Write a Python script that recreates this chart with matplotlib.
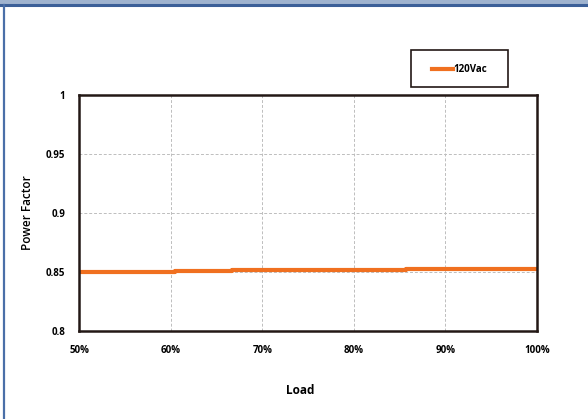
import matplotlib
matplotlib.use("Agg")
import matplotlib.pyplot as plt
from matplotlib.patches import Rectangle
from matplotlib.lines import Line2D

load = [50, 53.9, 60.5, 66.7, 74.3, 85.7, 100]
power_factor = [0.8496, 0.8501, 0.8506, 0.8515, 0.8521, 0.8528, 0.8528]
series_name = "120Vac"
xticks = [50, 60, 70, 80, 90, 100]
xtick_labels = ["50%", "60%", "70%", "80%", "90%", "100%"]
yticks = [0.8, 0.85, 0.9, 0.95, 1.0]
ytick_labels = ["0.8", "0.85", "0.9", "0.95", "1"]

plt.rcParams['font.family'] = ['Open Sans', 'DejaVu Sans']
fig = plt.figure(figsize=(5.88, 4.19), dpi=100)
fig.patch.set_facecolor('white')

# frame decorations
fig.add_artist(Rectangle((0, 1 - 5/419), 1, 5/419, transform=fig.transFigure,
                         facecolor='#9fb3cf', edgecolor='none'))
fig.add_artist(Line2D([0, 1], [1 - 5.5/419, 1 - 5.5/419], transform=fig.transFigure,
                      color='#3b5f98', lw=2.2))
fig.add_artist(Line2D([3.5/588, 3.5/588], [0, 1 - 5/419], transform=fig.transFigure,
                      color='#4a6fa8', lw=1.6))

ax = fig.add_axes([79/588, 1 - 331/419, 458/588, 236/419])
ax.plot(load, power_factor, drawstyle='steps-post', color='#f07020', lw=3.0,
        solid_capstyle='butt')
ax.set_xlim(50, 100)
ax.set_ylim(0.8, 1.0)
ax.set_xticks(xticks)
ax.set_xticklabels(xtick_labels)
ax.set_yticks(yticks)
ax.set_yticklabels(ytick_labels)
ax.tick_params(length=0, labelsize=7, pad=10)
for lab in ax.get_xticklabels() + ax.get_yticklabels():
    lab.set_fontweight('bold')
ax.grid(True, color='#bdbdbd', ls=(0, (3, 2)), lw=0.7)
for s in ax.spines.values():
    s.set_linewidth(1.8)
    s.set_color('#231815')

fig.text(28/588, 1 - 213/419, "Power Factor", rotation=90, ha='center', va='center',
         fontsize=8.5, fontweight='semibold')
fig.text(300/588, 1 - 390/419, "Load", ha='center', va='center',
         fontsize=8.5, fontweight='bold')

# legend box
fig.add_artist(Rectangle((411/588, 1 - 87/419), 97/588, 37/419, transform=fig.transFigure,
                         facecolor='white', edgecolor='#231815', lw=1.2))
fig.add_artist(Line2D([432/588, 453/588], [1 - 69/419, 1 - 69/419], transform=fig.transFigure,
                      color='#f07020', lw=3))
fig.text(453/588, 1 - 69/419, series_name, ha='left', va='center', fontsize=7,
         fontweight='bold')

fig.savefig("out.png", dpi=100)
